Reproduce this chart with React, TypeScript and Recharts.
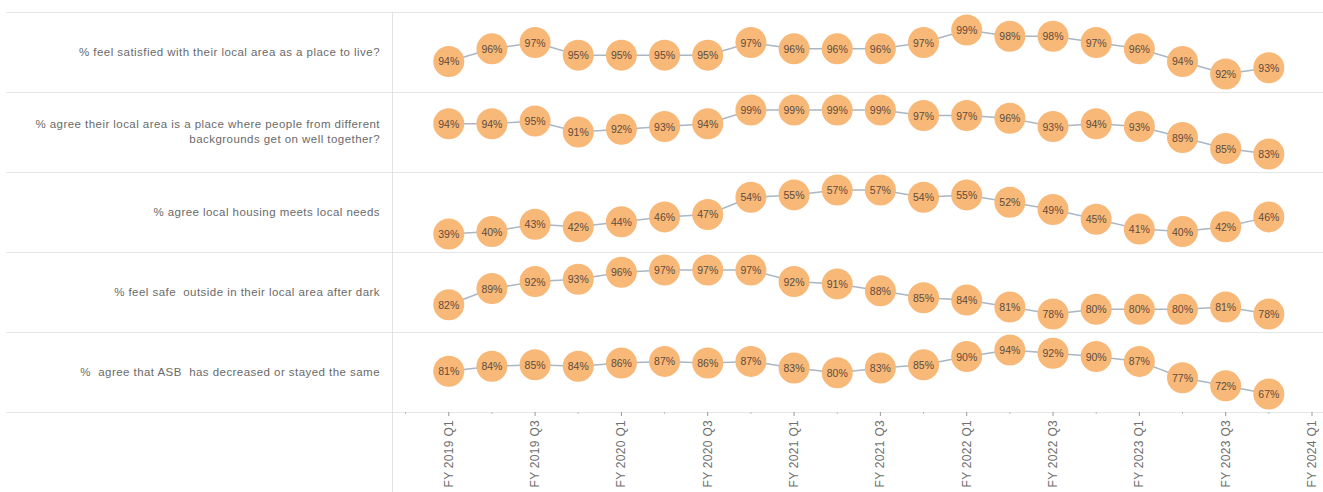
import { LineChart, Line, XAxis, YAxis } from "recharts";

// axis categories, one per quarter (first and last carry no data)
const quarters = [
  "FY 2018 Q4",
  "FY 2019 Q1", "FY 2019 Q2", "FY 2019 Q3", "FY 2019 Q4",
  "FY 2020 Q1", "FY 2020 Q2", "FY 2020 Q3", "FY 2020 Q4",
  "FY 2021 Q1", "FY 2021 Q2", "FY 2021 Q3", "FY 2021 Q4",
  "FY 2022 Q1", "FY 2022 Q2", "FY 2022 Q3", "FY 2022 Q4",
  "FY 2023 Q1", "FY 2023 Q2", "FY 2023 Q3", "FY 2023 Q4",
  "FY 2024 Q1",
];

// FY 2019 Q1 .. FY 2023 Q4
const satisfied = [94, 96, 97, 95, 95, 95, 95, 97, 96, 96, 96, 97, 99, 98, 98, 97, 96, 94, 92, 93];
const getOnWell = [94, 94, 95, 91, 92, 93, 94, 99, 99, 99, 99, 97, 97, 96, 93, 94, 93, 89, 85, 83];
const housing = [39, 40, 43, 42, 44, 46, 47, 54, 55, 57, 57, 54, 55, 52, 49, 45, 41, 40, 42, 46];
const safeAfterDark = [82, 89, 92, 93, 96, 97, 97, 97, 92, 91, 88, 85, 84, 81, 78, 80, 80, 80, 81, 78];
const asbSameOrLess = [81, 84, 85, 84, 86, 87, 86, 87, 83, 80, 83, 85, 90, 94, 92, 90, 87, 77, 72, 67];

const rows = [
  { label: ["% feel satisfied with their local area as a place to live?"], values: satisfied },
  {
    label: [
      "% agree their local area is a place where people from different",
      "backgrounds get on well together?",
    ],
    values: getOnWell,
  },
  { label: ["% agree local housing meets local needs"], values: housing },
  { label: ["% feel safe  outside in their local area after dark"], values: safeAfterDark },
  { label: ["%  agree that ASB  has decreased or stayed the same"], values: asbSameOrLess },
];

const ROW_H = 80;
const TOP = 12;
const DIVIDER_X = 392;
const PLOT_W = 1323 - DIVIDER_X;
const X_PAD = { left: 13.6, right: 11 };
const FONT = "'Liberation Sans', Arial, sans-serif";

const toData = (values: number[]) =>
  quarters.map((q, k) => ({ q, v: k >= 1 && k <= values.length ? values[k - 1] : null }));

const Bubble = (props: any) => {
  const { cx, cy, payload, index } = props;
  if (payload?.v == null || cx == null || cy == null) return <g key={`e-${index}`} />;
  return (
    <g key={`d-${index}`}>
      <circle cx={cx} cy={cy} r={15.5} fill="#f8b878" />
      <text
        x={cx}
        y={cy}
        textAnchor="middle"
        dominantBaseline="central"
        fontSize={10.5}
        fill="#5e4c3c"
        fontFamily={FONT}
      >
        {payload.v}%
      </text>
    </g>
  );
};

const QuarterTick = (props: any) => {
  const { x, payload } = props;
  const q: string = payload.value;
  const major = q.endsWith("Q1") || q.endsWith("Q3");
  if (!major) {
    return <line x1={x} x2={x} y1={0} y2={2} stroke="#bbb" strokeWidth={1} />;
  }
  return (
    <g>
      <line x1={x} x2={x} y1={0} y2={4} stroke="#999" strokeWidth={1} />
      <text
        transform={`translate(${x},8) rotate(-90)`}
        textAnchor="end"
        dominantBaseline="central"
        fontSize={12}
        fill="#707070"
        fontFamily={FONT}
        letterSpacing={0.3}
      >
        {q}
      </text>
    </g>
  );
};

export default function App() {
  return (
    <div
      style={{
        position: "absolute",
        left: 0,
        top: 0,
        width: 1323,
        height: 492,
        background: "#fff",
        fontFamily: FONT,
        overflow: "hidden",
      }}
    >
      {/* row separators */}
      {[0, 1, 2, 3, 4, 5].map((k) => (
        <div
          key={`sep-${k}`}
          style={{
            position: "absolute",
            left: 6,
            right: 0,
            top: TOP + k * ROW_H,
            height: 1,
            background: "#e6e6e6",
          }}
        />
      ))}
      {/* left column divider */}
      <div
        style={{
          position: "absolute",
          left: DIVIDER_X,
          top: TOP,
          width: 1,
          bottom: 0,
          background: "#e2e2e2",
        }}
      />

      {rows.map((row, k) => (
        <div key={`row-${k}`}>
          <div
            style={{
              position: "absolute",
              left: 6,
              width: 374,
              top: TOP + k * ROW_H,
              height: ROW_H,
              display: "flex",
              flexDirection: "column",
              justifyContent: "center",
              alignItems: "flex-end",
              textAlign: "right",
              fontSize: 11.5,
              letterSpacing: 0.45,
              lineHeight: "15px",
              color: "#6a6a6a",
              whiteSpace: "pre",
            }}
          >
            {row.label.map((t, j) => (
              <div key={j}>{t}</div>
            ))}
          </div>
          <div style={{ position: "absolute", left: DIVIDER_X, top: TOP + k * ROW_H }}>
            <LineChart
              width={PLOT_W}
              height={ROW_H}
              data={toData(row.values)}
              margin={{ top: 18, right: 0, bottom: 18, left: 0 }}
            >
              <XAxis dataKey="q" hide padding={X_PAD} />
              <YAxis hide domain={["dataMin", "dataMax"]} />
              <Line
                type="linear"
                dataKey="v"
                stroke="#a9b6c3"
                strokeWidth={1.5}
                dot={Bubble}
                activeDot={false}
                isAnimationActive={false}
              />
            </LineChart>
          </div>
        </div>
      ))}

      {/* shared quarter axis */}
      <div style={{ position: "absolute", left: DIVIDER_X, top: TOP + 5 * ROW_H }}>
        <LineChart
          width={PLOT_W}
          height={80}
          data={quarters.map((q) => ({ q, v: null }))}
          margin={{ top: 0, right: 0, bottom: 0, left: 0 }}
        >
          <XAxis
            dataKey="q"
            padding={X_PAD}
            height={79}
            interval={0}
            axisLine={false}
            tickLine={false}
            tick={QuarterTick}
          />
          <YAxis hide />
        </LineChart>
      </div>
    </div>
  );
}
